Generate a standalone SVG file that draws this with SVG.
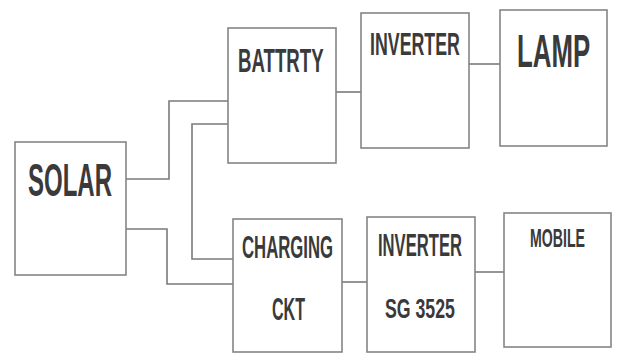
<svg xmlns="http://www.w3.org/2000/svg" width="619" height="354" viewBox="0 0 619 354">
<style>
.box{fill:#fff;stroke:#858585;stroke-width:1.6}
.wire{fill:none;stroke:#7a7a7a;stroke-width:1.6}
.t{font-family:"Liberation Sans",Arial,sans-serif;font-weight:bold;fill:#3a3a3a}
</style>
<rect width="619" height="354" fill="#fff"/>
<g id="connectors">
<polyline class="wire" points="126,179 169,179 169,101 228,101"/>
<polyline class="wire" points="228,124 192,124 192,259 233,259"/>
<polyline class="wire" points="126,229 167,229 167,284 233,284"/>
<line class="wire" x1="336" y1="92" x2="361" y2="92"/>
<line class="wire" x1="469" y1="64" x2="500" y2="64"/>
<line class="wire" x1="342" y1="282" x2="367" y2="282"/>
<line class="wire" x1="475" y1="272" x2="504" y2="272"/>
</g>
<g id="solar">
<rect class="box" x="15" y="142" width="111" height="133"/>
<text class="t" font-size="46" transform="translate(28,196) scale(0.522,1)">SOLAR</text>
</g>
<g id="battery">
<rect class="box" x="228" y="28" width="108" height="135"/>
<text class="t" font-size="33" transform="translate(238,72) scale(0.565,1)">BATTRTY</text>
</g>
<g id="inverter1">
<rect class="box" x="361" y="13" width="108" height="135"/>
<text class="t" font-size="32" transform="translate(370,55) scale(0.556,1)">INVERTER</text>
</g>
<g id="lamp">
<rect class="box" x="500" y="10" width="107" height="136"/>
<text class="t" font-size="47" transform="translate(517,67) scale(0.549,1)">LAMP</text>
</g>
<g id="charging">
<rect class="box" x="233" y="219" width="109" height="133"/>
<text class="t" font-size="32" transform="translate(242,258) scale(0.523,1)">CHARGING</text>
<text class="t" font-size="31" transform="translate(272,320) scale(0.518,1)">CKT</text>
</g>
<g id="inverter2">
<rect class="box" x="367" y="217" width="108" height="135"/>
<text class="t" font-size="32" transform="translate(378,256) scale(0.519,1)">INVERTER</text>
<text class="t" font-size="28" transform="translate(385,318) scale(0.633,1)">SG 3525</text>
</g>
<g id="mobile">
<rect class="box" x="504" y="213" width="107" height="134"/>
<text class="t" font-size="25" transform="translate(530,247) scale(0.566,1)">MOBILE</text>
</g>
</svg>
